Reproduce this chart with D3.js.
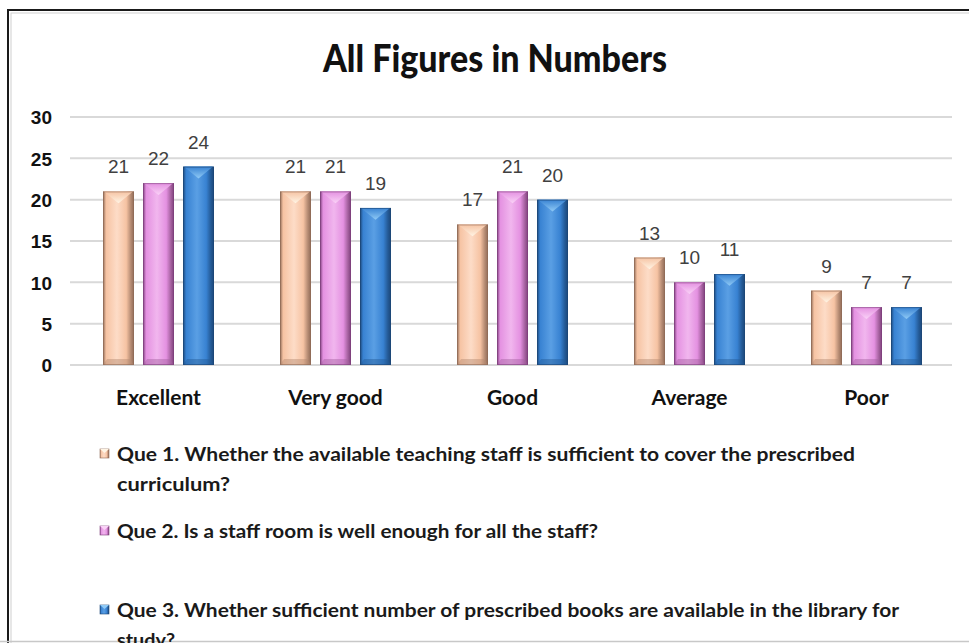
<!DOCTYPE html>
<html>
<head>
<meta charset="utf-8">
<script src="https://cdn.jsdelivr.net/npm/d3@7"></script>
<style>
  html, body { margin: 0; padding: 0; background: #fff; }
  svg { display: block; }
</style>
</head>
<body>
<div id="vis"></div>
<script>
// data
const categories = ["Excellent", "Very good", "Good", "Average", "Poor"];
const series = ["Que 1", "Que 2", "Que 3"];
const que1 = [21, 21, 17, 13, 9];
const que2 = [22, 21, 21, 10, 7];
const que3 = [24, 19, 20, 11, 7];
const yTicks = [0, 5, 10, 15, 20, 25, 30];
const legendLines = [
  ["Que 1.  Whether the available teaching staff is sufficient to cover the prescribed", "curriculum?"],
  ["Que 2. Is a staff room is well enough for all the staff?"],
  ["Que 3.  Whether sufficient number of prescribed books are available in the library for", "study?"]
];

const values = [que1, que2, que3];
const table = categories.map((c, i) => ({
  cat: c,
  vals: series.map((s, j) => ({ s: s, j: j, v: values[j][i] }))
}));

// options
const W = 969, H = 643;
const plot = { left: 70, right: 955, top: 117, bottom: 365 };
const palettes = [
  { dark: "#8f6a56", base: "#f6c3a3", light: "#fddcc7", tip: "#fff4e4", bot: "#b48a72" },
  { dark: "#7d3f7b", base: "#e491e1", light: "#f1b6ee", tip: "#fad2f7", bot: "#a5619f" },
  { dark: "#1c4677", base: "#3882d2", light: "#5a9fe4", tip: "#8fcaf6", bot: "#245a96" }
];

const svg = d3.select("#vis").append("svg")
  .attr("width", W).attr("height", H);

// frame
svg.append("rect").attr("x", 8).attr("y", 10).attr("width", 990).attr("height", 680)
  .attr("fill", "none").attr("stroke", "#1a1a1a").attr("stroke-width", 2);
svg.append("rect").attr("x", 11).attr("y", 13).attr("width", 990).attr("height", 680)
  .attr("fill", "none").attr("stroke", "#d0d0d0").attr("stroke-width", 1);
svg.append("line").attr("x1", 0).attr("x2", W).attr("y1", 641.5).attr("y2", 641.5)
  .attr("stroke", "#c8c8c8").attr("stroke-width", 1.5);

// gradients
const defs = svg.append("defs");
palettes.forEach((p, j) => {
  const g = defs.append("linearGradient").attr("id", "bar" + j)
    .attr("x1", 0).attr("x2", 1).attr("y1", 0).attr("y2", 0);
  [[0, p.dark], [0.1, p.base], [0.45, p.light], [0.75, p.base], [0.9, p.bot], [1, p.dark]]
    .forEach(([o, c]) => g.append("stop").attr("offset", o).attr("stop-color", c));
  const t = defs.append("linearGradient").attr("id", "tip" + j)
    .attr("x1", 0).attr("x2", 0).attr("y1", 0).attr("y2", 1);
  t.append("stop").attr("offset", 0).attr("stop-color", p.base);
  t.append("stop").attr("offset", 1).attr("stop-color", p.tip);
});

// title
svg.append("text")
  .attr("x", 495).attr("y", 72)
  .attr("text-anchor", "middle")
  .attr("font-family", "Lato, 'DejaVu Sans Condensed', sans-serif")
  .attr("font-weight", 900)
  .attr("font-size", 37)
  .attr("textLength", 344).attr("lengthAdjust", "spacingAndGlyphs")
  .attr("fill", "#111")
  .text("All Figures in Numbers");

// scales
const x0 = d3.scaleBand().domain(categories).range([plot.left, plot.right]);
const x1 = d3.scaleBand().domain(series)
  .range([(x0.step() - 111) / 2, (x0.step() + 111) / 2])
  .paddingInner(0.225);
const y = d3.scaleLinear().domain([0, 30]).range([plot.bottom, plot.top]);

// grid
svg.append("g").selectAll("line").data(yTicks).join("line")
  .attr("x1", plot.left).attr("x2", 952)
  .attr("y1", d => y(d)).attr("y2", d => y(d))
  .attr("stroke", "#d9d9d9").attr("stroke-width", 2);

// y axis labels
const yAxis = svg.append("g")
  .attr("transform", `translate(${plot.left - 18},0)`)
  .call(d3.axisLeft(y).tickValues(yTicks).tickSize(0).tickPadding(0));
yAxis.select(".domain").remove();
yAxis.selectAll(".tick text")
  .attr("font-family", "'Liberation Sans', Arial, sans-serif")
  .attr("font-weight", 700).attr("font-size", 19).attr("fill", "#111")
  .attr("dy", "0.36em");

// x axis labels
const xAxis = svg.append("g")
  .attr("transform", `translate(0,${plot.bottom})`)
  .call(d3.axisBottom(x0).tickSize(0).tickPadding(0));
xAxis.select(".domain").remove();
xAxis.selectAll(".tick text")
  .attr("y", 40).attr("dy", 0)
  .attr("font-family", "Lato, sans-serif")
  .attr("font-weight", 700).attr("font-size", 21).attr("fill", "#111");

// bars
const groups = svg.append("g").selectAll("g").data(table).join("g")
  .attr("transform", d => `translate(${x0(d.cat)},0)`);

const bars = groups.selectAll("g.bar").data(d => d.vals).join("g").attr("class", "bar");
const bw = x1.bandwidth();

bars.append("rect")
  .attr("x", d => x1(d.s)).attr("y", d => y(d.v))
  .attr("width", bw).attr("height", d => y(0) - y(d.v))
  .attr("fill", d => `url(#bar${d.j})`);

// top bevel highlight
bars.append("path")
  .attr("d", d => {
    const l = x1(d.s), t = y(d.v);
    return `M${l + 1},${t} L${l + bw - 1},${t} L${l + bw / 2},${t + bw * 0.38} Z`;
  })
  .attr("fill", d => `url(#tip${d.j})`);

// bottom bevel
bars.append("path")
  .attr("d", d => {
    const l = x1(d.s), b = y(0);
    return `M${l},${b} L${l + bw},${b} L${l + bw - 4},${b - 6} L${l + 4},${b - 6} Z`;
  })
  .attr("fill", d => palettes[d.j].bot).attr("opacity", 0.45);

bars.append("rect")
  .attr("x", d => x1(d.s) + 0.5).attr("y", d => y(d.v) + 0.5)
  .attr("width", bw - 1).attr("height", d => y(0) - y(d.v) - 1)
  .attr("fill", "none").attr("stroke", d => palettes[d.j].dark)
  .attr("stroke-opacity", 0.6);

// value labels
bars.append("text")
  .attr("x", d => x1(d.s) + bw / 2)
  .attr("y", d => y(d.v) - 18)
  .attr("text-anchor", "middle")
  .attr("font-family", "'Liberation Sans', Arial, sans-serif")
  .attr("font-size", 19).attr("fill", "#404040")
  .text(d => d.v);

// legend
const legendY = [461, 538, 617];
const legendW = [[738, 113], [481], [782, 58]];
const legend = svg.append("g").selectAll("g").data(legendLines).join("g")
  .attr("transform", (d, i) => `translate(0,${legendY[i]})`);

legend.append("rect")
  .attr("x", 100).attr("y", -12).attr("width", 9).attr("height", 9)
  .attr("fill", (d, i) => `url(#bar${i})`)
  .attr("stroke", (d, i) => palettes[i].dark).attr("stroke-width", 0.6);
legend.append("path")
  .attr("d", "M100,-12 L109,-12 L104.5,-8 Z")
  .attr("fill", (d, i) => palettes[i].tip);

legend.each(function (lines, i) {
  d3.select(this).selectAll("text").data(lines).join("text")
    .attr("x", 117).attr("y", (d, k) => k * 30)
    .attr("font-family", "Lato, sans-serif")
    .attr("font-weight", 700).attr("font-size", 19).attr("fill", "#1a1a1a")
    .attr("textLength", (d, k) => legendW[i][k])
    .attr("lengthAdjust", "spacingAndGlyphs")
    .text(d => d);
});
</script>
</body>
</html>
